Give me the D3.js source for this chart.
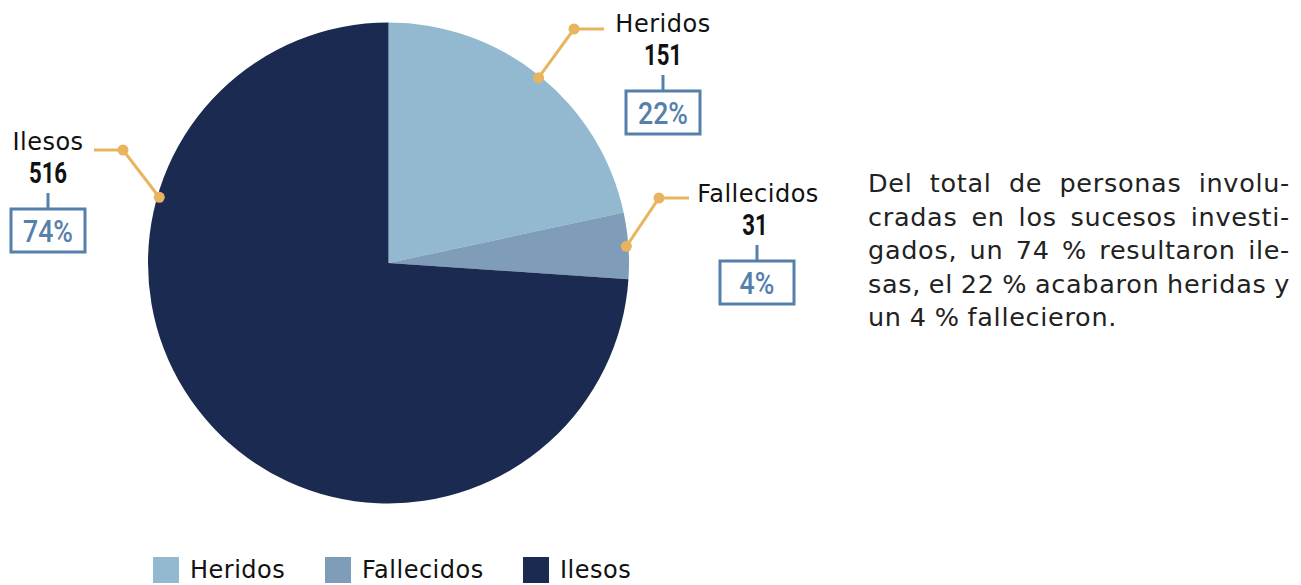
<!DOCTYPE html>
<html><head><meta charset="utf-8">
<script src="https://cdn.jsdelivr.net/npm/d3@7"></script>
<style>body{margin:0;background:#fff}svg{display:block}</style>
</head><body>
<svg id="c" width="1301" height="585"></svg>
<script>
const categories = ["Heridos", "Fallecidos", "Ilesos"];
const values = [151, 31, 516];
const percentLabels = ["22%", "4%", "74%"];
const colors = ["#93b9d0", "#7f9cb9", "#1b2a50"];
const paragraphLines = [
  "Del total de personas involu-",
  "cradas en los sucesos investi-",
  "gados, un 74 % resultaron ile-",
  "sas, el 22 % acabaron heridas y",
  "un 4 % fallecieron."
];

// annotation layout (anchor angle on the pie edge, elbow, label position)
const labelLayout = [
  {angle: 39, elbow: [574, 29], end: [604, 29], lx: 663, ly: 32},
  {angle: 86, elbow: [659, 198], end: [689, 198], lx: 758, ly: 202},
  {angle: 286, elbow: [123, 150], end: [94, 150], lx: 48, ly: 150}
];

const svg = d3.select("#c");
const cx = 388.5, cy = 263, R = 240.5;
const font = "'DejaVu Sans', sans-serif";
const cond = "Roboto, sans-serif";

const pie = d3.pie().sort(null).value(d => d)(values);
const arc = d3.arc().innerRadius(0).outerRadius(R);
const g = svg.append("g").attr("transform", `translate(${cx},${cy})`);
g.selectAll("path").data(pie).join("path")
  .attr("d", arc).attr("fill", (d, i) => colors[i]);

const lineCol = "#e8b55e", boxCol = "#5580ab";
labelLayout.forEach((L, i) => {
  const a = L.angle * Math.PI / 180;
  const r = R - 2;
  const p = [cx + r * Math.sin(a), cy - r * Math.cos(a)];
  svg.append("polyline")
    .attr("points", [p, L.elbow, L.end].map(q => q.join(",")).join(" "))
    .attr("fill", "none").attr("stroke", lineCol).attr("stroke-width", 3);
  [p, L.elbow].forEach(q => svg.append("circle").attr("cx", q[0]).attr("cy", q[1]).attr("r", 5.5).attr("fill", lineCol));

  svg.append("text").attr("x", L.lx).attr("y", L.ly).attr("text-anchor", "middle")
    .attr("font-family", font).attr("font-size", 24).attr("letter-spacing", 0.5)
    .attr("fill", "#111").text(categories[i]);
  const nx = L.lx - (i === 1 ? 3 : 0);
  svg.append("text").attr("transform", `translate(${nx},${L.ly + 33}) scale(0.74,1)`)
    .attr("text-anchor", "middle")
    .attr("font-family", cond).attr("font-weight", "bold").attr("font-size", 30).attr("fill", "#111")
    .text(values[i]);
  const bx = L.lx - (i === 1 ? 1 : 0);
  const top = L.ly + 43;
  svg.append("line").attr("x1", bx).attr("x2", bx).attr("y1", top).attr("y2", top + 16)
    .attr("stroke", boxCol).attr("stroke-width", 3);
  svg.append("rect").attr("x", bx - 37).attr("y", top + 16).attr("width", 74).attr("height", 43)
    .attr("fill", "#fff").attr("stroke", boxCol).attr("stroke-width", 3);
  svg.append("text").attr("transform", `translate(${bx},${top + 49}) scale(0.86,1)`)
    .attr("text-anchor", "middle").attr("font-weight", 500)
    .attr("font-family", cond).attr("font-size", 31).attr("fill", boxCol).text(percentLabels[i]);
});

// justified paragraph
const px0 = 868, px1 = 1290, py0 = 192, lh = 33.5;
paragraphLines.forEach((line, li) => {
  const words = line.split(" ");
  const y = py0 + li * lh;
  const last = li === paragraphLines.length - 1;
  const nodes = words.map(w => svg.append("text").attr("y", y).attr("font-family", font)
    .attr("font-size", 25.5).attr("letter-spacing", 0.7).attr("fill", "#222").text(w));
  const widths = nodes.map(n => n.node().getComputedTextLength());
  const total = d3.sum(widths);
  const gap = last ? 8 : (px1 - px0 - total) / (words.length - 1);
  let x = px0;
  nodes.forEach((n, k) => { n.attr("x", x); x += widths[k] + gap; });
});

// legend
const legX = [153, 325, 523];
categories.forEach((c, i) => {
  svg.append("rect").attr("x", legX[i]).attr("y", 557).attr("width", 26).attr("height", 26).attr("fill", colors[i]);
  svg.append("text").attr("x", legX[i] + 37).attr("y", 578).attr("font-family", font)
    .attr("font-size", 24).attr("letter-spacing", 0.5).attr("fill", "#111").text(c);
});
</script>
</body></html>
